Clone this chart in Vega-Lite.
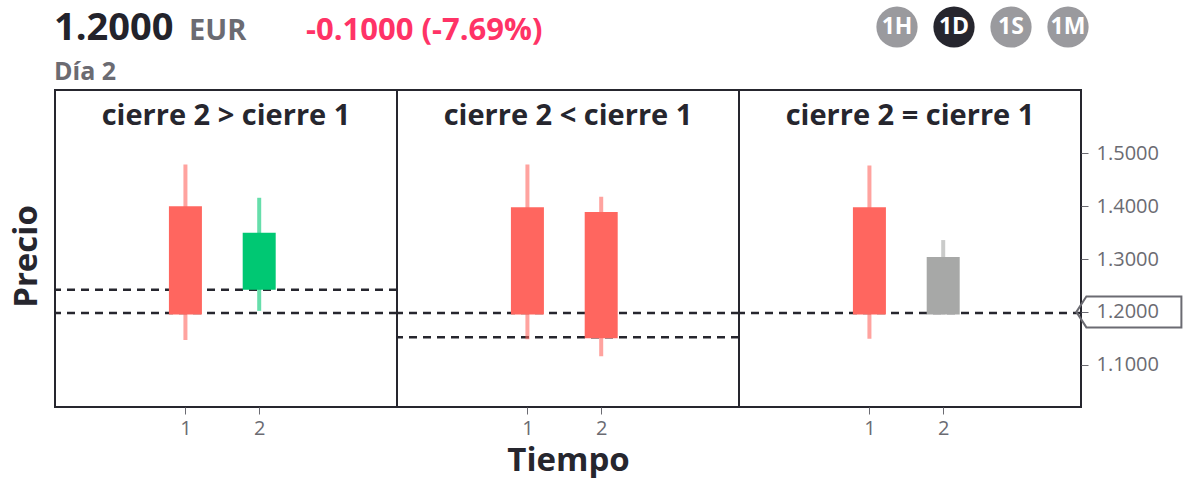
{
"$schema": "https://vega.github.io/schema/vega-lite/v6.json",
"background": "white",
"padding": {"left": 9, "top": 0, "right": 0, "bottom": 0},
"config": {
  "font": "Open Sans",
  "view": {"stroke": "#26262e", "strokeWidth": 2},
  "axis": {"grid": false, "labelFont": "Open Sans", "titleFont": "Open Sans", "labelFontSize": 20, "labelColor": "#6b6b72", "tickColor": "#6b6b72", "tickSize": 7, "domain": false},
  "title": {"font": "Open Sans", "fontSize": 29, "fontWeight": "bold", "color": "#26262e", "anchor": "middle", "baseline": "middle", "offset": -41}
},
"datasets": {
  "candles": [
    {"panel": 1, "t": 1, "open": 1.4, "close": 1.195, "high": 1.479, "low": 1.147, "dir": "baja"},
    {"panel": 1, "t": 2, "open": 1.242, "close": 1.35, "high": 1.416, "low": 1.202, "dir": "sube"},
    {"panel": 2, "t": 1, "open": 1.398, "close": 1.195, "high": 1.479, "low": 1.148, "dir": "baja"},
    {"panel": 2, "t": 2, "open": 1.389, "close": 1.15, "high": 1.418, "low": 1.116, "dir": "baja"},
    {"panel": 3, "t": 1, "open": 1.398, "close": 1.195, "high": 1.477, "low": 1.149, "dir": "baja"},
    {"panel": 3, "t": 2, "open": 1.195, "close": 1.304, "high": 1.336, "low": 1.195, "dir": "igual"}
  ],
  "levels": [
    {"panel": 1, "level": 1.242},
    {"panel": 1, "level": 1.198},
    {"panel": 2, "level": 1.198},
    {"panel": 2, "level": 1.152},
    {"panel": 3, "level": 1.198}
  ],
  "header": [
    {"item": "precio", "label": "1.2000"},
    {"item": "moneda", "label": "EUR"},
    {"item": "cambio", "label": "-0.1000 (-7.69%)"},
    {"item": "dia", "label": "Día 2"}
  ],
  "botones": [
    {"label": "1H", "estado": "no"},
    {"label": "1D", "estado": "si"},
    {"label": "1S", "estado": "no"},
    {"label": "1M", "estado": "no"}
  ]
},
"spacing": 4,
"resolve": {"scale": {"color": "independent"}},
"vconcat": [
  {
    "width": 1100, "height": 80, "view": {"stroke": null},
    "layer": [
      {
        "data": {"name": "header"},
        "layer": [
          {"transform": [{"filter": "datum.item == 'precio'"}],
           "mark": {"type": "text", "align": "left", "baseline": "alphabetic", "fontSize": 38, "fontWeight": "bold", "color": "#23232b"},
           "encoding": {"text": {"field": "label"},
             "x": {"datum": -1, "type": "quantitative", "scale": {"domain": [0, 1100]}, "axis": null},
             "y": {"datum": 40, "type": "quantitative", "scale": {"domain": [80, 0]}, "axis": null}}},
          {"transform": [{"filter": "datum.item == 'moneda'"}],
           "mark": {"type": "text", "align": "left", "baseline": "alphabetic", "fontSize": 29, "fontWeight": "bold", "color": "#6b6b72"},
           "encoding": {"text": {"field": "label"},
             "x": {"datum": 134, "type": "quantitative", "scale": {"domain": [0, 1100]}, "axis": null},
             "y": {"datum": 40, "type": "quantitative", "scale": {"domain": [80, 0]}, "axis": null}}},
          {"transform": [{"filter": "datum.item == 'cambio'"}],
           "mark": {"type": "text", "align": "left", "baseline": "alphabetic", "fontSize": 31, "fontWeight": "bold", "color": "#ff3366"},
           "encoding": {"text": {"field": "label"},
             "x": {"datum": 251, "type": "quantitative", "scale": {"domain": [0, 1100]}, "axis": null},
             "y": {"datum": 40, "type": "quantitative", "scale": {"domain": [80, 0]}, "axis": null}}},
          {"transform": [{"filter": "datum.item == 'dia'"}],
           "mark": {"type": "text", "align": "left", "baseline": "alphabetic", "fontSize": 25, "fontWeight": "bold", "color": "#6b6b72"},
           "encoding": {"text": {"field": "label"},
             "x": {"datum": -1, "type": "quantitative", "scale": {"domain": [0, 1100]}, "axis": null},
             "y": {"datum": 80, "type": "quantitative", "scale": {"domain": [80, 0]}, "axis": null}}}
        ]
      },
      {
        "data": {"name": "botones"},
        "encoding": {
          "x": {"field": "label", "type": "nominal", "sort": null, "scale": {"type": "point", "domain": ["1H", "1D", "1S", "1M"], "range": [842, 1013], "padding": 0}, "axis": null}
        },
        "layer": [
          {"mark": {"type": "circle", "size": 1700, "opacity": 1},
           "encoding": {
             "y": {"datum": 27, "type": "quantitative", "scale": {"domain": [80, 0]}, "axis": null},
             "color": {"field": "estado", "type": "nominal", "scale": {"domain": ["no", "si"], "range": ["#9a9a9e", "#26262e"]}, "legend": null}}},
          {"mark": {"type": "text", "fontSize": 23, "fontWeight": "bold", "color": "white", "baseline": "middle", "align": "center"},
           "encoding": {
             "text": {"field": "label"},
             "y": {"datum": 27, "type": "quantitative", "scale": {"domain": [80, 0]}, "axis": null}}}
        ]
      }
    ],
    "resolve": {"scale": {"x": "independent"}}
  },
  {
    "spacing": 0,
    "bounds": "flush",
    "hconcat": [
      {
        "width": 342, "height": 317,
        "title": {"text": "cierre 2 > cierre 1"},
        "layer": [
          {"data": {"name": "levels"}, "transform": [{"filter": "datum.panel == 1"}],
           "mark": {"type": "rule", "strokeDash": [8, 6], "strokeWidth": 2.5, "color": "#26262e"},
           "encoding": {"y": {"field": "level", "type": "quantitative", "scale": {"domain": [1.02, 1.62], "nice": false, "zero": false}, "axis": {"orient": "left", "title": "Precio", "labels": false, "ticks": false, "titleFontSize": 33, "titleFontWeight": "bold", "titleColor": "#26262e", "titlePadding": 12, "titleY": 166}}}},
          {"data": {"name": "candles"}, "transform": [{"filter": "datum.panel == 1"}],
           "mark": {"type": "rule", "strokeWidth": 4, "opacity": 0.6},
           "encoding": {
             "x": {"field": "t", "type": "quantitative", "scale": {"domain": [-0.7, 3.8], "nice": false, "zero": false}, "axis": {"values": [1, 2], "format": "d", "title": null, "labelPadding": 4}},
             "y": {"field": "low", "type": "quantitative", "scale": {"domain": [1.02, 1.62], "nice": false, "zero": false}, "axis": {"orient": "left", "title": "Precio", "labels": false, "ticks": false, "titleFontSize": 33, "titleFontWeight": "bold", "titleColor": "#26262e", "titlePadding": 12, "titleY": 166}},
             "y2": {"field": "high"},
             "color": {"field": "dir", "type": "nominal", "scale": {"domain": ["baja", "sube", "igual"], "range": ["#ff665f", "#00c873", "#a7a8a7"]}, "legend": null}}},
          {"data": {"name": "candles"}, "transform": [{"filter": "datum.panel == 1"}],
           "mark": {"type": "bar", "size": 33},
           "encoding": {
             "x": {"field": "t", "type": "quantitative", "scale": {"domain": [-0.7, 3.8], "nice": false, "zero": false}, "axis": {"values": [1, 2], "format": "d", "title": null, "labelPadding": 4}},
             "y": {"field": "open", "type": "quantitative", "scale": {"domain": [1.02, 1.62], "nice": false, "zero": false}, "axis": {"orient": "left", "title": "Precio", "labels": false, "ticks": false, "titleFontSize": 33, "titleFontWeight": "bold", "titleColor": "#26262e", "titlePadding": 12, "titleY": 166}},
             "y2": {"field": "close"},
             "color": {"field": "dir", "type": "nominal", "scale": {"domain": ["baja", "sube", "igual"], "range": ["#ff665f", "#00c873", "#a7a8a7"]}, "legend": null}}}
        ]
      },
      {
        "width": 342, "height": 317,
        "title": {"text": "cierre 2 < cierre 1"},
        "layer": [
          {"data": {"name": "levels"}, "transform": [{"filter": "datum.panel == 2"}],
           "mark": {"type": "rule", "strokeDash": [8, 6], "strokeWidth": 2.5, "color": "#26262e"},
           "encoding": {"y": {"field": "level", "type": "quantitative", "scale": {"domain": [1.02, 1.62], "nice": false, "zero": false}, "axis": null}}},
          {"data": {"name": "candles"}, "transform": [{"filter": "datum.panel == 2"}],
           "mark": {"type": "rule", "strokeWidth": 4, "opacity": 0.6},
           "encoding": {
             "x": {"field": "t", "type": "quantitative", "scale": {"domain": [-0.7, 3.8], "nice": false, "zero": false}, "axis": {"values": [1, 2], "format": "d", "title": "Tiempo", "labelPadding": 4, "titleFontSize": 33, "titleFontWeight": "bold", "titleColor": "#26262e", "titlePadding": 6}},
             "y": {"field": "low", "type": "quantitative", "scale": {"domain": [1.02, 1.62], "nice": false, "zero": false}, "axis": null},
             "y2": {"field": "high"},
             "color": {"field": "dir", "type": "nominal", "scale": {"domain": ["baja", "sube", "igual"], "range": ["#ff665f", "#00c873", "#a7a8a7"]}, "legend": null}}},
          {"data": {"name": "candles"}, "transform": [{"filter": "datum.panel == 2"}],
           "mark": {"type": "bar", "size": 33},
           "encoding": {
             "x": {"field": "t", "type": "quantitative", "scale": {"domain": [-0.7, 3.8], "nice": false, "zero": false}, "axis": {"values": [1, 2], "format": "d", "title": "Tiempo", "labelPadding": 4, "titleFontSize": 33, "titleFontWeight": "bold", "titleColor": "#26262e", "titlePadding": 6}},
             "y": {"field": "open", "type": "quantitative", "scale": {"domain": [1.02, 1.62], "nice": false, "zero": false}, "axis": null},
             "y2": {"field": "close"},
             "color": {"field": "dir", "type": "nominal", "scale": {"domain": ["baja", "sube", "igual"], "range": ["#ff665f", "#00c873", "#a7a8a7"]}, "legend": null}}}
        ]
      },
      {
        "width": 342, "height": 317,
        "title": {"text": "cierre 2 = cierre 1"},
        "layer": [
          {"data": {"name": "levels"}, "transform": [{"filter": "datum.panel == 3"}],
           "mark": {"type": "rule", "strokeDash": [8, 6], "strokeWidth": 2.5, "color": "#26262e"},
           "encoding": {"y": {"field": "level", "type": "quantitative", "scale": {"domain": [1.02, 1.62], "nice": false, "zero": false}, "axis": {"orient": "right", "values": [1.1, 1.2, 1.3, 1.4, 1.5], "format": ".4f", "title": null, "labelPadding": 8}}}},
          {"data": {"name": "candles"}, "transform": [{"filter": "datum.panel == 3"}],
           "mark": {"type": "rule", "strokeWidth": 4, "opacity": 0.6},
           "encoding": {
             "x": {"field": "t", "type": "quantitative", "scale": {"domain": [-0.7, 3.8], "nice": false, "zero": false}, "axis": {"values": [1, 2], "format": "d", "title": null, "labelPadding": 4}},
             "y": {"field": "low", "type": "quantitative", "scale": {"domain": [1.02, 1.62], "nice": false, "zero": false}, "axis": {"orient": "right", "values": [1.1, 1.2, 1.3, 1.4, 1.5], "format": ".4f", "title": null, "labelPadding": 8}},
             "y2": {"field": "high"},
             "color": {"field": "dir", "type": "nominal", "scale": {"domain": ["baja", "sube", "igual"], "range": ["#ff665f", "#00c873", "#a7a8a7"]}, "legend": null}}},
          {"data": {"name": "candles"}, "transform": [{"filter": "datum.panel == 3"}],
           "mark": {"type": "bar", "size": 33},
           "encoding": {
             "x": {"field": "t", "type": "quantitative", "scale": {"domain": [-0.7, 3.8], "nice": false, "zero": false}, "axis": {"values": [1, 2], "format": "d", "title": null, "labelPadding": 4}},
             "y": {"field": "open", "type": "quantitative", "scale": {"domain": [1.02, 1.62], "nice": false, "zero": false}, "axis": {"orient": "right", "values": [1.1, 1.2, 1.3, 1.4, 1.5], "format": ".4f", "title": null, "labelPadding": 8}},
             "y2": {"field": "close"},
             "color": {"field": "dir", "type": "nominal", "scale": {"domain": ["baja", "sube", "igual"], "range": ["#ff665f", "#00c873", "#a7a8a7"]}, "legend": null}}},
          {"data": {"values": [{"precio": 1.2}]},
           "mark": {"type": "point", "shape": "M -1 0 L -0.81 -0.295 L 1 -0.295 L 1 0.295 L -0.81 0.295 Z", "size": 11025, "filled": false, "stroke": "#6b6b72", "strokeWidth": 2, "opacity": 1},
           "encoding": {
             "x": {"datum": 4.517, "type": "quantitative", "scale": {"domain": [-0.7, 3.8], "nice": false, "zero": false}},
             "y": {"field": "precio", "type": "quantitative", "scale": {"domain": [1.02, 1.62], "nice": false, "zero": false}, "axis": {"orient": "right", "values": [1.1, 1.2, 1.3, 1.4, 1.5], "format": ".4f", "title": null, "labelPadding": 8}}}}
        ]
      }
    ]
  }
]
}
